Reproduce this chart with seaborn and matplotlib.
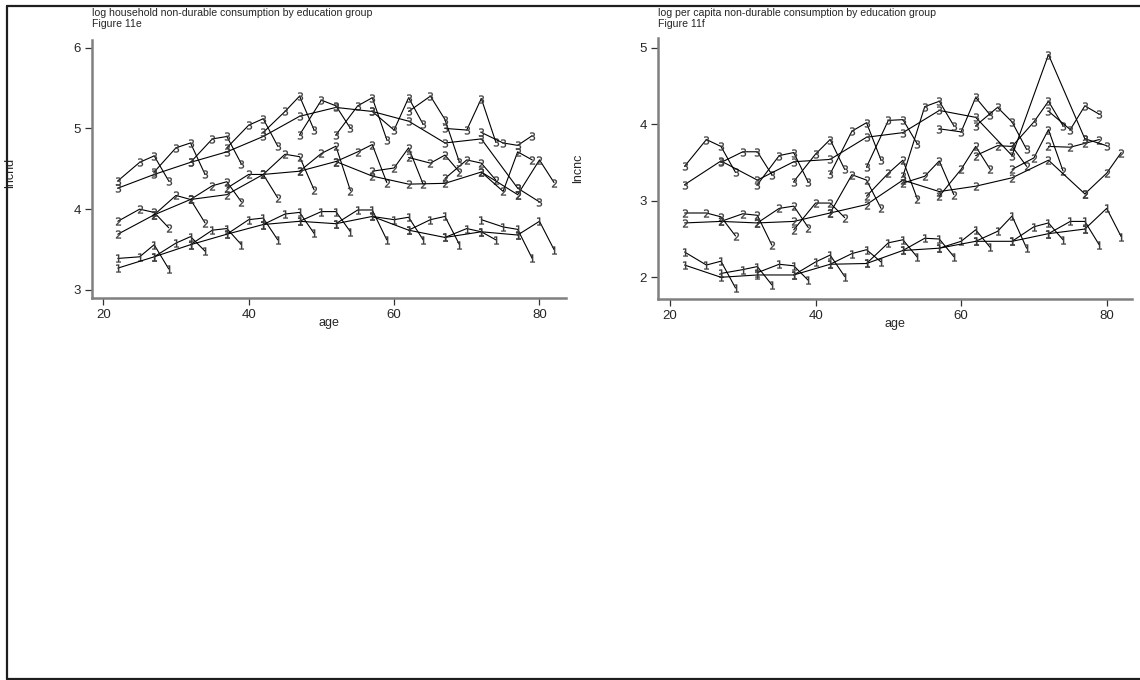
import matplotlib
matplotlib.use("Agg")
import matplotlib.pyplot as plt
import pandas as pd
import seaborn as sns
from matplotlib.lines import Line2D

# Age of each cohort in the first survey year, and survey-year offsets
cohort_ages = [22, 27, 32, 37, 42, 47, 52, 57, 62, 67, 72, 77]
survey_offsets = [0, 3, 5, 7]

# ---- log household non-durable consumption (lncnd) ----
# first-survey-year values across cohorts, by education group
hh_first_1 = [3.27, 3.41, 3.56, 3.69, 3.81, 3.85, 3.82, 3.91, 3.74, 3.65, 3.72, 3.68]
hh_first_2 = [3.69, 3.93, 4.12, 4.18, 4.43, 4.47, 4.59, 4.41, 4.31, 4.32, 4.46, 4.18]
hh_first_3 = [4.26, 4.43, 4.58, 4.71, 4.90, 5.15, 5.26, 5.21, 5.09, 4.82, 4.87, 4.26]

# each cohort followed over the survey years
hh_cohort_1 = [
    [3.39, 3.41, 3.56, 3.26], [3.41, 3.58, 3.66, 3.48], [3.56, 3.74, 3.76, 3.56],
    [3.69, 3.87, 3.89, 3.62], [3.81, 3.94, 3.96, 3.70], [3.85, 3.97, 3.97, 3.72],
    [3.82, 3.99, 3.99, 3.62], [3.91, 3.87, 3.90, 3.62], [3.74, 3.87, 3.91, 3.56],
    [3.65, 3.76, 3.72, 3.62], [3.87, 3.78, 3.75, 3.39], [3.68, 3.85, 3.50],
]
hh_cohort_2 = [
    [3.85, 4.00, 3.96, 3.77], [3.93, 4.17, 4.12, 3.83], [4.12, 4.29, 4.34, 4.09],
    [4.26, 4.43, 4.43, 4.14], [4.43, 4.68, 4.65, 4.24], [4.47, 4.69, 4.78, 4.23],
    [4.59, 4.71, 4.80, 4.33], [4.47, 4.51, 4.76, 4.31], [4.64, 4.57, 4.67, 4.46],
    [4.38, 4.61, 4.57, 4.36], [4.46, 4.22, 4.71, 4.61], [4.18, 4.61, 4.33],
]
hh_cohort_3 = [
    [4.35, 4.58, 4.66, 4.35], [4.46, 4.76, 4.82, 4.43], [4.58, 4.87, 4.90, 4.56],
    [4.76, 5.04, 5.12, 4.78], [4.95, 5.21, 5.40, 4.98], [4.92, 5.35, 5.28, 5.00],
    [4.92, 5.28, 5.38, 4.86], [5.21, 4.98, 5.38, 5.05], [5.21, 5.40, 5.11, 4.58],
    [5.00, 4.98, 5.37, 4.83], [4.95, 4.82, 4.79, 4.91], [4.26, 4.09],
]

# ---- log per capita non-durable consumption (lncnc) ----
pc_first_1 = [2.16, 2.00, 2.03, 2.03, 2.17, 2.18, 2.35, 2.38, 2.47, 2.47, 2.57, 2.63]
pc_first_2 = [2.71, 2.73, 2.71, 2.73, 2.84, 2.95, 3.27, 3.12, 3.19, 3.30, 3.53, 3.09]
pc_first_3 = [3.21, 3.52, 3.27, 3.51, 3.54, 3.83, 3.89, 4.18, 4.09, 3.59, 4.91, 3.81]

pc_cohort_1 = [
    [2.33, 2.16, 2.21, 1.86], [2.05, 2.10, 2.14, 1.90], [2.06, 2.17, 2.15, 1.96],
    [2.03, 2.20, 2.29, 2.01], [2.17, 2.31, 2.36, 2.20], [2.18, 2.45, 2.49, 2.26],
    [2.35, 2.51, 2.50, 2.27], [2.38, 2.47, 2.62, 2.39], [2.47, 2.60, 2.80, 2.38],
    [2.47, 2.66, 2.71, 2.49], [2.57, 2.73, 2.73, 2.42], [2.63, 2.90, 2.53],
]
pc_cohort_2 = [
    [2.84, 2.84, 2.79, 2.54], [2.73, 2.83, 2.81, 2.42], [2.71, 2.90, 2.93, 2.65],
    [2.62, 2.97, 2.97, 2.78], [2.84, 3.34, 3.27, 2.90], [3.06, 3.36, 3.53, 3.02],
    [3.23, 3.32, 3.52, 3.08], [3.06, 3.41, 3.71, 3.41], [3.59, 3.72, 3.71, 3.45],
    [3.41, 3.56, 3.93, 3.39], [3.71, 3.70, 3.75, 3.80], [3.09, 3.36, 3.63],
]
pc_cohort_3 = [
    [3.45, 3.80, 3.71, 3.37], [3.50, 3.64, 3.64, 3.34], [3.21, 3.59, 3.63, 3.24],
    [3.25, 3.61, 3.80, 3.41], [3.35, 3.91, 4.02, 3.53], [3.44, 4.05, 4.06, 3.74],
    [3.32, 4.23, 4.30, 3.98], [3.94, 3.90, 4.35, 4.12], [3.98, 4.22, 4.03, 3.67],
    [3.71, 4.03, 4.30, 3.98], [4.17, 3.93, 4.24, 4.13], [3.81, 3.72],
]

education_groups = ["1", "2", "3"]


def panel_frame(firsts, cohorts):
    rows = []
    for grp, first, coh in zip(education_groups, firsts, cohorts):
        for a, v in zip(cohort_ages, first):
            rows.append(dict(group=grp, unit=f"{grp}-first", age=a, value=v))
        for a0, vals in zip(cohort_ages, coh):
            for off, v in zip(survey_offsets, vals):
                rows.append(dict(group=grp, unit=f"{grp}-c{a0}", age=a0 + off, value=v))
    return pd.DataFrame(rows)


hh_df = panel_frame([hh_first_1, hh_first_2, hh_first_3],
                    [hh_cohort_1, hh_cohort_2, hh_cohort_3])
pc_df = panel_frame([pc_first_1, pc_first_2, pc_first_3],
                    [pc_cohort_1, pc_cohort_2, pc_cohort_3])

sns.set_style("white")
plt.rcParams["font.family"] = ["Liberation Sans", "DejaVu Sans"]

W, H = 1140, 680
fig = plt.figure(figsize=(W / 100, H / 100), dpi=100)


def axes_px(x0, x1, ytop, ybot):
    return fig.add_axes([x0 / W, 1 - ybot / H, (x1 - x0) / W, (ybot - ytop) / H])


def draw_panel(ax, df, xlim, ylim, yticks, title, fignum, ylabel):
    for grp in education_groups:
        sub = df[df["group"] == grp]
        sns.lineplot(data=sub, x="age", y="value", units="unit", estimator=None,
                     sort=False, ax=ax, color="black", lw=0.8,
                     marker=f"${grp}$", markersize=5.8, markerfacecolor="#3a3a3a",
                     markeredgecolor="#3a3a3a", markeredgewidth=0.2, legend=False)
    ax.set_xlim(*xlim)
    ax.set_ylim(*ylim)
    ax.set_xticks([20, 40, 60, 80])
    ax.set_yticks(yticks)
    for side in ("top", "right"):
        ax.spines[side].set_visible(False)
    for side in ("left", "bottom"):
        ax.spines[side].set_color("#808080")
        ax.spines[side].set_linewidth(1.8)
    ax.tick_params(direction="out", length=5, width=0.9, color="#333333",
                   labelsize=9.5, pad=3, left=True, bottom=True)
    ax.set_xlabel("age", fontsize=9)
    ax.xaxis.set_label_coords(0.5, -0.095)
    ax.xaxis.label.set_va("center")
    ax.set_ylabel(ylabel, fontsize=9)
    ax.yaxis.label.set_va("center")
    x0 = ax.get_position().x0
    fig.text(x0, 1 - 13 / H, title, fontsize=7.6, va="center", ha="left")
    fig.text(x0, 1 - 24 / H, fignum, fontsize=7.6, va="center", ha="left")


ax1 = axes_px(92, 566, 40, 298)
draw_panel(ax1, hh_df, (18.45, 83.65), (2.90, 6.095), [3, 4, 5, 6],
           "log household non-durable consumption by education group", "Figure 11e", "lncnd")
ax1.yaxis.set_label_coords(-0.173, 0.485)

ax2 = axes_px(658, 1132, 38, 299)
draw_panel(ax2, pc_df, (18.35, 83.48), (1.716, 5.127), [2, 3, 4, 5],
           "log per capita non-durable consumption by education group", "Figure 11f", "lncnc")
ax2.yaxis.set_label_coords(-0.169, 0.50)

# outer frame of the graph region
frame_kw = dict(color="#1e1e1e", lw=1.6, transform=None)
for xs, ys in [((7, W), (H - 5.5, H - 5.5)), ((7, 7), (H - 5.5, 1)), ((7, W), (1, 1))]:
    fig.add_artist(Line2D(xs, ys, **frame_kw))

fig.savefig("out.png", dpi=100)
